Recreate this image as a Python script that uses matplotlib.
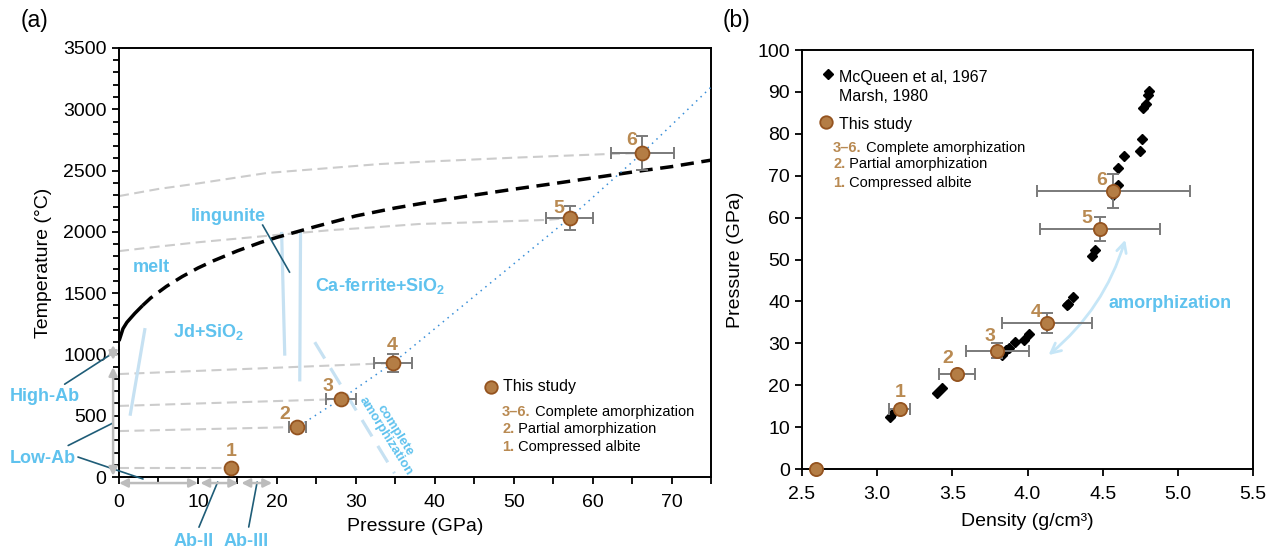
import matplotlib
matplotlib.use('Agg')
import matplotlib.pyplot as plt
import matplotlib.transforms as mtransforms

plt.rcParams['font.family'] = ['Liberation Sans', 'DejaVu Sans']
plt.rcParams['mathtext.fontset'] = 'custom'
plt.rcParams['mathtext.rm'] = 'Liberation Sans'
plt.rcParams['mathtext.bf'] = 'Liberation Sans:bold'

# ---------------- data: panel (a) ----------------
study_labels = ['1', '2', '3', '4', '5', '6']
study_P = [14.2, 22.6, 28.1, 34.7, 57.1, 66.3]
study_T = [70, 408, 636, 930, 2113, 2643]
study_P_err = [0, 1.05, 1.9, 2.4, 3.0, 4.0]
study_T_err = [0, 0, 0, 70, 100, 140]

melt_P = [0, 0.5, 1, 2, 3, 4, 6, 8, 10, 12, 15, 18, 20, 25, 30, 35, 40, 45, 50, 55, 60, 66, 70, 75]
melt_T = [1110, 1210, 1262, 1335, 1400, 1460, 1555, 1635, 1705, 1765, 1845, 1915, 1955, 2045,
          2130, 2195, 2250, 2300, 2348, 2393, 2440, 2497, 2532, 2585]
melt_solid_end = 3

iso1_P = [0, 14.2]
iso1_T = [70, 70]
iso2_P = [0, 22.6]
iso2_T = [375, 408]
iso3_P = [0, 28.1]
iso3_T = [580, 636]
iso4_P = [0, 34.7]
iso4_T = [840, 930]
iso5_P = [0, 5, 10, 20, 27, 33, 38, 45, 54, 57.1]
iso5_T = [1843, 1880, 1915, 1975, 2015, 2040, 2064, 2078, 2097, 2113]
iso6_P = [0, 5, 10, 18.7, 33, 38, 50, 62, 66.3]
iso6_T = [2292, 2350, 2395, 2480, 2553, 2570, 2605, 2635, 2643]

hug_P = [23.5, 28.1, 34.7, 57.1, 66.3, 75]
hug_T = [445, 636, 930, 2113, 2643, 3180]

bnd_ab_P = [1.4, 3.3]
bnd_ab_T = [500, 1215]
bnd_ling1_P = [20.6, 21.0]
bnd_ling1_T = [2000, 990]
bnd_ling2_P = [23.0, 22.9]
bnd_ling2_T = [2000, 780]
bnd_amorph_P = [24.8, 34.9]
bnd_amorph_T = [1100, 30]

ab_fields_P = [(0, 10), (10.3, 15.1), (15.5, 19.4)]
ab_fields_T = [(10, 897), (955, 1077)]

# ---------------- data: panel (b) ----------------
ref_rho = [3.085, 3.105, 3.40, 3.43, 3.83, 3.86, 3.88, 3.92, 3.98, 4.01, 4.26, 4.27, 4.30,
           4.43, 4.45, 4.57, 4.60, 4.60, 4.64, 4.75, 4.76, 4.77, 4.79, 4.80, 4.81]
ref_P = [12.4, 13.4, 18.1, 19.3, 27.2, 28.4, 28.9, 30.3, 30.8, 32.2, 39.1, 39.4, 41.0,
         50.8, 52.3, 65.4, 67.8, 71.9, 74.7, 75.9, 78.7, 86.1, 87.1, 89.3, 90.2]

b_labels = ['', '1', '2', '3', '4', '5', '6']
b_rho = [2.59, 3.15, 3.53, 3.80, 4.13, 4.48, 4.57]
b_P = [0, 14.3, 22.7, 28.2, 34.8, 57.2, 66.3]
b_rho_err = [0, 0.07, 0.12, 0.21, 0.30, 0.40, 0.51]
b_P_err = [0, 0, 0, 1.8, 2.4, 2.9, 4.0]

# ---------------- styles ----------------
BROWN_FACE = '#b47d45'
BROWN_EDGE = '#94531f'
TAN = '#b98a52'
BLUE_TXT = '#5fc2ee'
LBLUE = '#c6e1f2'
TEAL = '#1f5d78'
GRAY_DASH = '#cccccc'
ERR = '#7a7a7a'

fig = plt.figure(figsize=(12.73, 5.49), dpi=100)
ax = fig.add_axes([0.0935, 0.1311, 0.465, 0.7815])
bx = fig.add_axes([0.630, 0.1457, 0.3543, 0.7632])

for a in (ax, bx):
    for s in a.spines.values():
        s.set_linewidth(1.4)
    a.tick_params(which='both', direction='out', length=5, width=1.3, labelsize=14)

# ---------------- panel (a) ----------------
ax.set_xlim(0, 75)
ax.set_ylim(0, 3500)
ax.set_xticks(range(0, 71, 10))
ax.set_xticks(range(5, 76, 10), minor=True)
ax.set_yticks(range(0, 3501, 500))
ax.set_yticks(range(0, 3501, 100), minor=True)
ax.tick_params(axis='x', which='both', pad=7)
ax.tick_params(axis='y', which='both', pad=4)
ax.tick_params(axis='y', which='minor', length=4)
ax.set_xlabel('Pressure (GPa)', fontsize=14)
ax.set_ylabel('Temperature (°C)', fontsize=14)
ax.xaxis.set_label_coords(0.5, -0.096)
ax.yaxis.set_label_coords(-0.113, 0.5)

for P, T in [(iso1_P, iso1_T), (iso2_P, iso2_T), (iso3_P, iso3_T),
             (iso4_P, iso4_T), (iso5_P, iso5_T), (iso6_P, iso6_T)]:
    ax.plot(P, T, color=GRAY_DASH, lw=1.5, dashes=(4.8, 2.6), zorder=2)

# melting curve
n_solid = len([p for p in melt_P if p <= melt_solid_end])
ax.plot(melt_P[:n_solid], melt_T[:n_solid], color='black', lw=2.5, zorder=3,
        solid_capstyle='butt', solid_joinstyle='round')
ax.plot(melt_P[n_solid - 1:], melt_T[n_solid - 1:], color='black', lw=2.5,
        dashes=(3.8, 2.2), zorder=3)

# phase boundaries
for P, T in [(bnd_ab_P, bnd_ab_T), (bnd_ling1_P, bnd_ling1_T), (bnd_ling2_P, bnd_ling2_T)]:
    ax.plot(P, T, color=LBLUE, lw=2.3, zorder=2, solid_capstyle='butt')
ax.plot(bnd_amorph_P, bnd_amorph_T, color=LBLUE, lw=2.3, dashes=(6, 3.5), zorder=2)

# hugoniot dotted
ax.plot(hug_P, hug_T, color='#3a8fd8', lw=1.1, dashes=(1, 3), zorder=3)

# study points
ax.errorbar(study_P, study_T, xerr=study_P_err, yerr=study_T_err, fmt='none',
            ecolor=ERR, elinewidth=1.4, capsize=4, capthick=1.4, zorder=4)
ax.plot(study_P, study_T, 'o', ms=10, mfc=BROWN_FACE, mec=BROWN_EDGE, mew=1.3, zorder=5)
a_offsets = [(0, 17), (-13, 13), (-13, 13), (-1, 18), (-11, 10), (-11, 13)]
for lab, p, t, off in zip(study_labels, study_P, study_T, a_offsets):
    ax.annotate(lab, (p, t), xytext=off, textcoords='offset pixels', ha='center', va='center',
                fontsize=14, fontweight='bold', color=TAN, zorder=6)

# blue labels
blue_kw = dict(color=BLUE_TXT, fontsize=13, fontweight='bold', ha='center', va='center')
ax.text(4.05, 1713, 'melt', **blue_kw)
ax.text(13.8, 2129, 'lingunite', **blue_kw)
ax.text(11.3, 1183, r'Jd+SiO$_\mathbf{2}$', **blue_kw)
ax.text(33.1, 1558, r'Ca-ferrite+SiO$_\mathbf{2}$', **blue_kw)
ax.text(34.4, 355, 'complete\namorphization', color=BLUE_TXT, fontsize=9.5,
        fontweight='bold', ha='center', va='center', rotation=-58, linespacing=0.95)

# leader lines
ax.plot([18.2, 21.6], [2055, 1672], color=TEAL, lw=1.2, zorder=3)


def lead(text, xy, xytext):
    ax.annotate(text, xy=xy, xytext=xytext, xycoords='data', textcoords='data',
                annotation_clip=False, ha='center', va='center', color=BLUE_TXT,
                fontsize=13, fontweight='bold',
                arrowprops=dict(arrowstyle='-', color=TEAL, lw=1.2, shrinkA=2, shrinkB=0))


lead('High-Ab', (-0.76, 1012), (-9.4, 653))
lead('Low-Ab', (-0.76, 441), (-9.6, 155))
ax.annotate('', xy=(3.04, -16), xytext=(-5.2, 163), annotation_clip=False,
            arrowprops=dict(arrowstyle='-', color=TEAL, lw=1.2, shrinkA=0, shrinkB=0))
lead('Ab-II', (12.5, -41), (9.4, -522))
lead('Ab-III', (17.5, -41), (16.1, -522))

# gray field arrows along axes
trans_x = mtransforms.blended_transform_factory(ax.transData, ax.transAxes)
for p0, p1 in ab_fields_P:
    ax.annotate('', xy=(p1, -0.014), xytext=(p0, -0.014), xycoords=trans_x, textcoords=trans_x,
                annotation_clip=False,
                arrowprops=dict(arrowstyle='<|-|>,head_length=0.5,head_width=0.25',
                                color='#bcbcbc', lw=1.8, shrinkA=0, shrinkB=0))
trans_y = mtransforms.blended_transform_factory(ax.transAxes, ax.transData)
for t0, t1 in ab_fields_T:
    ax.annotate('', xy=(-0.01, t1), xytext=(-0.01, t0), xycoords=trans_y, textcoords=trans_y,
                annotation_clip=False,
                arrowprops=dict(arrowstyle='<|-|>,head_length=0.5,head_width=0.25',
                                color='#bcbcbc', lw=1.8, shrinkA=0, shrinkB=0))

# legend (a)
ax.plot([0.628], [0.210], 'o', transform=ax.transAxes, ms=9, mfc=BROWN_FACE, mec=BROWN_EDGE,
        mew=1.3, clip_on=False)
ax.text(0.649, 0.210, 'This study', transform=ax.transAxes, fontsize=11.5, va='center')


def sub_items(axis, x, ys):
    items = [('3–6.', ' Complete amorphization'), ('2.', ' Partial amorphization'),
             ('1.', ' Compressed albite')]
    for (pre, rest), y in zip(items, ys):
        t = axis.text(x, y, pre, transform=axis.transAxes, fontsize=10.5, fontweight='bold',
                      color=TAN, va='center')
        axis.annotate(rest, xy=(1, 0.5), xycoords=t, va='center', ha='left', fontsize=10.5)


sub_items(ax, 0.647, [0.1515, 0.112, 0.070])

# ---------------- panel (b) ----------------
bx.set_xlim(2.5, 5.5)
bx.set_ylim(0, 100)
bx.set_xticks([2.5, 3.0, 3.5, 4.0, 4.5, 5.0, 5.5])
bx.set_xticklabels(['2.5', '3.0', '3.5', '4.0', '4.5', '5.0', '5.5'])
bx.set_yticks(range(0, 101, 10))
bx.tick_params(axis='x', pad=7)
bx.set_xlabel('Density (g/cm³)', fontsize=14)
bx.set_ylabel('Pressure (GPa)', fontsize=14)
bx.xaxis.set_label_coords(0.5, -0.105)
bx.yaxis.set_label_coords(-0.129, 0.5)

bx.plot(ref_rho, ref_P, 'D', ms=5.5, color='black', zorder=3)
bx.errorbar(b_rho, b_P, xerr=b_rho_err, yerr=b_P_err, fmt='none', ecolor=ERR,
            elinewidth=1.4, capsize=4, capthick=1.4, zorder=4)
bx.plot(b_rho, b_P, 'o', ms=9.5, mfc=BROWN_FACE, mec=BROWN_EDGE, mew=1.3, zorder=5, clip_on=False)
b_offsets = [(0, 0), (0, 17), (-9, 15), (-7, 14), (-11, 11), (-13, 11), (-12, 11)]
for lab, r, p, off in zip(b_labels, b_rho, b_P, b_offsets):
    if lab:
        bx.annotate(lab, (r, p), xytext=off, textcoords='offset pixels', ha='center', va='center',
                    fontsize=14, fontweight='bold', color=TAN, zorder=6)

bx.annotate('', xy=(4.65, 54.7), xytext=(4.14, 27.2),
            arrowprops=dict(arrowstyle='<->,head_length=0.7,head_width=0.35', color='#c6e6f7',
                            lw=2, connectionstyle='arc3,rad=0.15', shrinkA=0, shrinkB=0))
bx.text(4.95, 39.4, 'amorphization', color=BLUE_TXT, fontsize=13, fontweight='bold',
        ha='center', va='center')

# legend (b)
bx.plot([0.0576], [0.9427], 'D', ms=5.5, color='black', transform=bx.transAxes, clip_on=False)
bx.text(0.082, 0.935, 'McQueen et al, 1967', transform=bx.transAxes, fontsize=11.5, va='center')
bx.text(0.082, 0.888, 'Marsh, 1980', transform=bx.transAxes, fontsize=11.5, va='center')
bx.plot([0.053], [0.828], 'o', ms=9, mfc=BROWN_FACE, mec=BROWN_EDGE, mew=1.3,
        transform=bx.transAxes, clip_on=False)
bx.text(0.082, 0.823, 'This study', transform=bx.transAxes, fontsize=11.5, va='center')
sub_items(bx, 0.069, [0.766, 0.728, 0.683])

fig.text(34 / 1273, 1 - 20 / 549, '(a)', fontsize=16.5, ha='center', va='center')
fig.text(737 / 1273, 1 - 20 / 549, '(b)', fontsize=16.5, ha='center', va='center')

fig.savefig('out.png', dpi=100)
